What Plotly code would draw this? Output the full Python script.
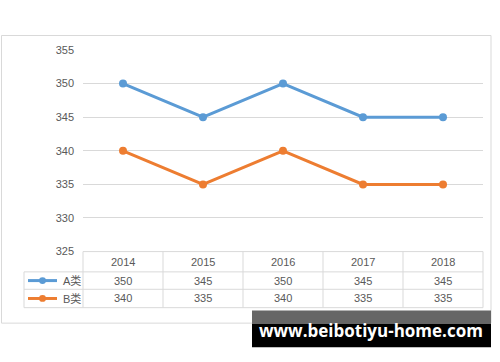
import plotly.graph_objects as go

years = ["2014", "2015", "2016", "2017", "2018"]
series_names = ["A类", "B类"]
series_a = [350, 345, 350, 345, 345]
series_b = [340, 335, 340, 335, 335]
y_ticks = [325, 330, 335, 340, 345, 350, 355]
colors = ["#5B9BD5", "#ED7D31"]
watermark = "www.beibotiyu-home.com"

W, H = 500, 362
def px(x):
    return x / W
def py(y):
    return 1 - y / H

FONT = "Liberation Sans, Noto Sans CJK SC, sans-serif"
TXT = "#595959"
GRID = "#D9D9D9"

plot_l, plot_r = 83, 483
plot_t, plot_b = 45.5, 254

fig = go.Figure()
for name, vals, c in zip(series_names, [series_a, series_b], colors):
    fig.add_trace(go.Scatter(x=years, y=vals, mode="lines+markers", name=name,
                             line=dict(color=c, width=3), marker=dict(color=c, size=8),
                             showlegend=False))

shapes = []
ann = []
def add_text(x, y, text, size=11, color=TXT, xanchor="center", family=FONT):
    ann.append(dict(x=px(x), y=py(y), xref="paper", yref="paper", text=text, showarrow=False,
                    xanchor=xanchor, yanchor="middle", font=dict(family=family, size=size, color=color)))

# outer border
shapes.append(dict(type="rect", xref="paper", yref="paper", x0=px(1.5), x1=px(491),
                   y0=py(328), y1=py(30.5), line=dict(color=GRID, width=1)))

# table geometry
row_y = [254, 275, 293, 312]
col_w = (plot_r - plot_l) / len(years)
col_x = [plot_l + i * col_w for i in range(len(years) + 1)]
legend_l = 24
lc = "#D9D9D9"
shapes.append(dict(type="line", xref="paper", yref="paper", x0=px(plot_l), x1=px(plot_r),
                   y0=py(row_y[0]), y1=py(row_y[0]), line=dict(color=lc, width=1)))
for yy in row_y[1:]:
    shapes.append(dict(type="line", xref="paper", yref="paper", x0=px(legend_l), x1=px(plot_r),
                       y0=py(yy), y1=py(yy), line=dict(color=lc, width=1)))
shapes.append(dict(type="line", xref="paper", yref="paper", x0=px(legend_l), x1=px(legend_l),
                   y0=py(row_y[1]), y1=py(row_y[3]), line=dict(color=lc, width=1)))
for xx in col_x:
    shapes.append(dict(type="line", xref="paper", yref="paper", x0=px(xx), x1=px(xx),
                       y0=py(row_y[0]), y1=py(row_y[3]), line=dict(color=lc, width=1)))

for i, yr in enumerate(years):
    add_text(col_x[i] + col_w / 2, (row_y[0] + row_y[1]) / 2, yr)
for r, (name, vals, c) in enumerate(zip(series_names, [series_a, series_b], colors)):
    yc = (row_y[r + 1] + row_y[r + 2]) / 2
    for i, v in enumerate(vals):
        add_text(col_x[i] + col_w / 2, yc, str(v))
    shapes.append(dict(type="line", xref="paper", yref="paper", x0=px(28), x1=px(57),
                       y0=py(yc), y1=py(yc), line=dict(color=c, width=3)))
    shapes.append(dict(type="circle", xref="paper", yref="paper", x0=px(39), x1=px(46),
                       y0=py(yc + 3.5), y1=py(yc - 3.5), fillcolor=c, line=dict(color=c, width=0)))
    add_text(61, yc, name, xanchor="left")

# watermark
shapes.append(dict(type="rect", xref="paper", yref="paper", x0=px(252), x1=px(491),
                   y0=py(329), y1=py(315), fillcolor="#666666", line=dict(width=0)))
shapes.append(dict(type="rect", xref="paper", yref="paper", x0=px(252), x1=px(491),
                   y0=py(353), y1=py(329), fillcolor="#000000", line=dict(width=0)))
add_text(371, 336, "<b>" + watermark + "</b>", size=17, color="white", family="Open Sans, sans-serif")

fig.update_layout(
    width=W, height=H, margin=dict(l=0, r=0, t=0, b=0),
    paper_bgcolor="white", plot_bgcolor="white",
    xaxis=dict(domain=[px(plot_l), px(plot_r)], range=[-0.5, len(years) - 0.5], type="category",
               showticklabels=False, showgrid=False, zeroline=False, showline=False, ticks=""),
    yaxis=dict(domain=[py(plot_b), py(plot_t)], range=[325, 355], tickvals=y_ticks,
               showgrid=True, gridcolor=GRID, gridwidth=1, zeroline=False, showline=False,
               ticks="", ticklabelstandoff=8,
               tickfont=dict(family=FONT, size=11, color=TXT)),
    shapes=shapes, annotations=ann, font=dict(family=FONT),
)
fig.write_html("out.html")
